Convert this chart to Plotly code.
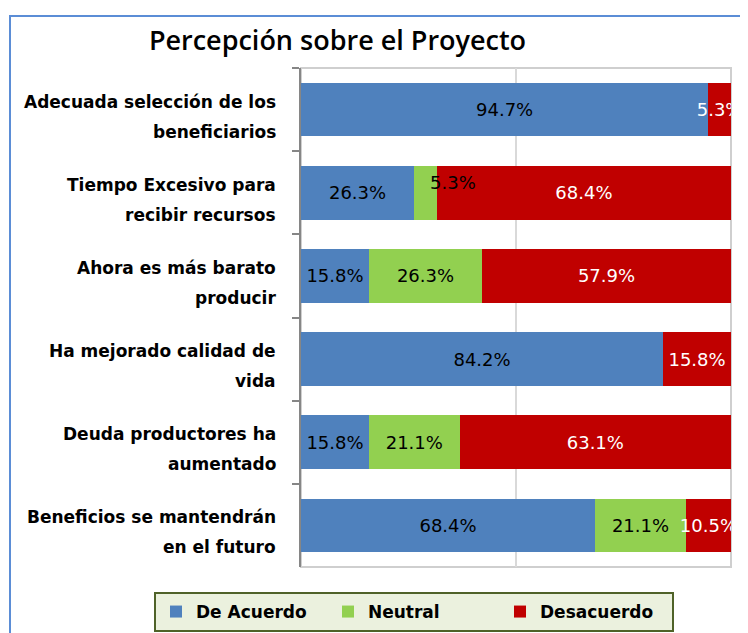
import plotly.graph_objects as go

categories = [
    "Adecuada selección de los<br>beneficiarios",
    "Tiempo Excesivo para<br>recibir recursos",
    "Ahora es más barato<br>producir",
    "Ha mejorado calidad de<br>vida",
    "Deuda productores ha<br>aumentado",
    "Beneficios se mantendrán<br>en el futuro",
]
de_acuerdo = [94.7, 26.3, 15.8, 84.2, 15.8, 68.4]
neutral = [0.0, 5.3, 26.3, 0.0, 21.1, 21.1]
desacuerdo = [5.3, 68.4, 57.9, 15.8, 63.1, 10.5]
series_names = ["De Acuerdo", "Neutral", "Desacuerdo"]
title_text = "Percepción sobre el Proyecto"

colors = ["#4F81BD", "#92D050", "#C00000"]
text_colors = ["#000000", "#000000", "#FFFFFF"]

# the small green segment's label is drawn offset (as in the original)
offset_label = (1, 1)  # (series index, category index)

# page body margin (8px) is compensated in the figure geometry
W, H = 748, 633
ML, MR, MT, MB = 293, 25, 60, 74
PW, PH = W - ML - MR, H - MT - MB

fig = go.Figure()
all_series = [de_acuerdo, neutral, desacuerdo]
for si, (name, vals) in enumerate(zip(series_names, all_series)):
    texts = []
    for ci, v in enumerate(vals):
        if v <= 0 or (si, ci) == offset_label:
            texts.append("")
        else:
            texts.append(f"{v:.1f}%")
    fig.add_trace(go.Bar(
        y=categories, x=vals, name=name, orientation="h",
        marker=dict(color=colors[si], line=dict(width=0)),
        text=texts, textposition="inside", insidetextanchor="middle",
        constraintext="none", textangle=0, cliponaxis=True,
        textfont=dict(family="DejaVu Sans", size=18, color=text_colors[si]),
        hoverinfo="skip",
    ))

annotations = []
# category labels (two lines each, wider line spacing)
for cat in categories:
    lines = cat.split("<br>")
    for li, line in enumerate(lines):
        annotations.append(dict(
            x=0, xref="paper", y=cat, yref="y",
            text=line, showarrow=False, xanchor="right", yanchor="middle",
            xshift=-23, yshift=8 - 30 * li,
            font=dict(family="DejaVu Sans", size=17, color="#000000", weight="bold"),
        ))

# offset label for the small neutral segment
si, ci = offset_label
val = all_series[si][ci]
base = sum(all_series[k][ci] for k in range(si))
annotations.append(dict(
    x=base + val / 2, xref="x", y=categories[ci], yref="y",
    text=f"{val:.1f}%", showarrow=False, xanchor="center", yanchor="middle",
    xshift=28, yshift=10,
    font=dict(family="DejaVu Sans", size=18, color="#000000"),
))

shapes = [
    # outer chart border (light blue)
    dict(type="rect", xref="paper", yref="paper", x0=(2 - ML) / PW, x1=2,
         y0=-1, y1=(PH + MT - 8) / PH, line=dict(color="#5B8DD6", width=2),
         layer="below"),
    # plot area border
    dict(type="rect", xref="paper", yref="paper", x0=0, x1=1, y0=0, y1=1,
         line=dict(color="#CFCFCF", width=2), layer="below"),
]

fig.update_layout(
    width=W, height=H,
    margin=dict(l=ML, r=MR, t=MT, b=MB, autoexpand=False),
    paper_bgcolor="white", plot_bgcolor="white",
    barmode="stack", bargap=0.353,
    title=dict(text=title_text, x=329.5 / W, xref="container", xanchor="center",
               y=1 - 33 / H, yref="container", yanchor="middle",
               font=dict(family="Open Sans", size=27, color="#000000", weight=600)),
    xaxis=dict(range=[0, 100], showticklabels=False, showgrid=True,
               gridcolor="#D9D9D9", gridwidth=1.5, dtick=50, tick0=0,
               zeroline=False, ticks="", fixedrange=True),
    yaxis=dict(categoryorder="array", categoryarray=categories,
               autorange="reversed", showticklabels=False, showgrid=False,
               showline=True, linecolor="#868686", linewidth=2,
               ticks="outside", tickson="boundaries", ticklen=7,
               tickcolor="#868686", tickwidth=2, zeroline=False),
    legend=dict(orientation="h", x=(146 - ML) / PW, xanchor="left",
                y=(PH + MT - 584) / PH, yanchor="top",
                bgcolor="#EBF1DE", bordercolor="#4F6228", borderwidth=2,
                font=dict(family="DejaVu Sans", size=17, color="#000000",
                          weight="bold"),
                traceorder="normal", entrywidth=127),
    annotations=annotations,
    shapes=shapes,
    showlegend=True,
)

fig.write_html("out.html")
